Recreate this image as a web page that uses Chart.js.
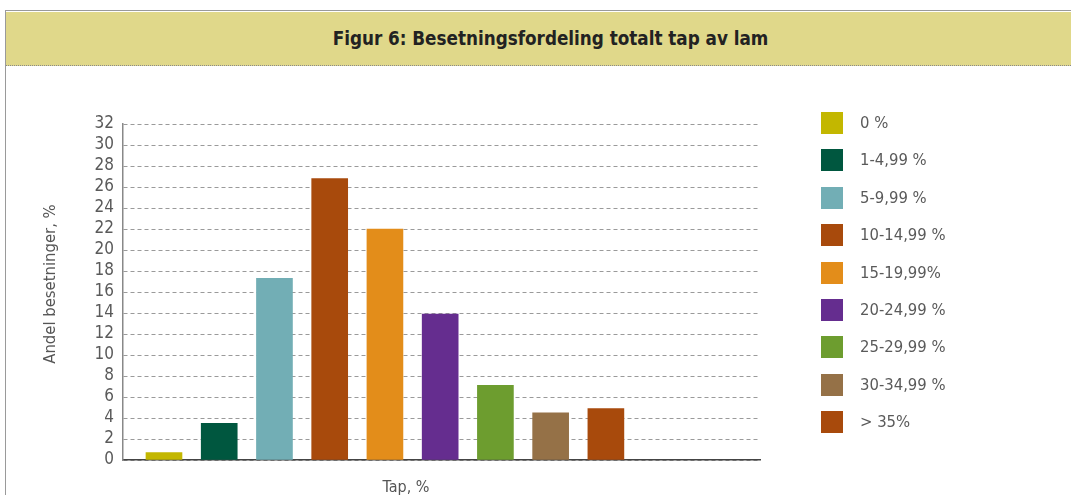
<!DOCTYPE html>
<html><head><meta charset="utf-8">
<script src="https://cdn.jsdelivr.net/npm/chart.js@4"></script>
<style>
html,body{margin:0;padding:0;background:#fff;width:1071px;height:495px;overflow:hidden;}
#frame{position:absolute;left:5px;top:10px;width:1066px;height:485px;border-top:1.5px solid #9a9a9a;border-left:1.5px solid #9a9a9a;}
#band{position:absolute;left:6px;top:12px;width:1065px;height:54px;background:#e0d88a;border-bottom:1.5px dotted #8a8a8a;
 font-family:"DejaVu Sans Condensed","DejaVu Sans",sans-serif;font-weight:bold;font-size:18.7px;color:#222;
 display:flex;align-items:center;justify-content:center;box-sizing:border-box;padding-left:24px;}
#wrap{position:absolute;left:0;top:0;width:1071px;height:495px;}
#legend{position:absolute;left:821px;top:0;font-family:"DejaVu Sans Condensed","DejaVu Sans",sans-serif;font-size:16.5px;color:#5a5a5a;}
.item{position:absolute;left:0;height:22px;white-space:nowrap;}
.box{position:absolute;left:0;top:0;width:22px;height:22px;}
.lbl{position:absolute;left:39px;top:0;line-height:22px;}
#xtitle{position:absolute;left:356px;width:100px;top:477px;text-align:center;font-family:"DejaVu Sans Condensed","DejaVu Sans",sans-serif;font-size:16px;color:#555;}
#ytitle{position:absolute;left:-50px;width:200px;top:274px;height:20px;line-height:20px;text-align:center;transform:rotate(-90deg);font-family:"DejaVu Sans Condensed","DejaVu Sans",sans-serif;font-size:16.5px;color:#555;}
</style></head>
<body>
<div id="frame"></div>
<div id="band">Figur 6: Besetningsfordeling totalt tap av lam</div>
<div id="wrap"><canvas id="c" width="1071" height="495"></canvas></div>
<div id="legend"></div>
<div id="xtitle"></div>
<div id="ytitle"></div>
<script>
const categories = ["0 %","1-4,99 %","5-9,99 %","10-14,99 %","15-19,99%","20-24,99 %","25-29,99 %","30-34,99 %","> 35%"];
const values = [0.7, 3.5, 17.3, 26.8, 22.0, 13.9, 7.1, 4.5, 4.9];
const colors = ["#c3b700","#00573f","#72aeb5","#a84a0c","#e38d1a","#652d8f","#6d9d2f","#957147","#a84a0c"];
const yTicks = [0,2,4,6,8,10,12,14,16,18,20,22,24,26,28,30,32];
const yTitle = "Andel besetninger, %";
const xTitle = "Tap, %";

const font = "'DejaVu Sans Condensed','DejaVu Sans',sans-serif";
const data = values.map((v,i)=>({x:i,y:v}));

new Chart(document.getElementById('c'), {
  type:'bar',
  data:{datasets:[{data:data, backgroundColor:colors, barThickness:36, borderWidth:0}]},
  options:{
    responsive:false, animation:false,
    layout:{padding:{left:0,right:311,top:124,bottom:0}},
    plugins:{legend:{display:false},tooltip:{enabled:false}},
    scales:{
      x:{type:'linear', min:-0.742, max:10.79, offset:false,
         afterFit(s){s.height=35;},
         afterDataLimits(s){s.min=-0.742; s.max=10.79;},
         ticks:{display:false}, grid:{display:false, offset:false},
         border:{display:true,color:'#444',width:1.5}},
      y:{min:0,max:32,
         afterFit(s){s.width=123;},
         afterBuildTicks(s){s.ticks=yTicks.map(v=>({value:v}));},
         ticks:{color:'#5a5a5a',font:{family:font,size:17},padding:9,autoSkip:false},
         grid:{color:'#9a9a9a',lineWidth:1,drawTicks:false},
         border:{display:true,color:'#888',width:1.5,dash:[4,3]}}
    }
  }
});

document.getElementById('xtitle').textContent = xTitle;
document.getElementById('ytitle').textContent = yTitle;
const leg = document.getElementById('legend');
categories.forEach((c,i)=>{
  const d=document.createElement('div'); d.className='item'; d.style.top=(112+i*37.4)+'px';
  d.innerHTML='<div class="box" style="background:'+colors[i]+'"></div><div class="lbl">'+c+'</div>';
  leg.appendChild(d);
});
</script>
</body></html>
